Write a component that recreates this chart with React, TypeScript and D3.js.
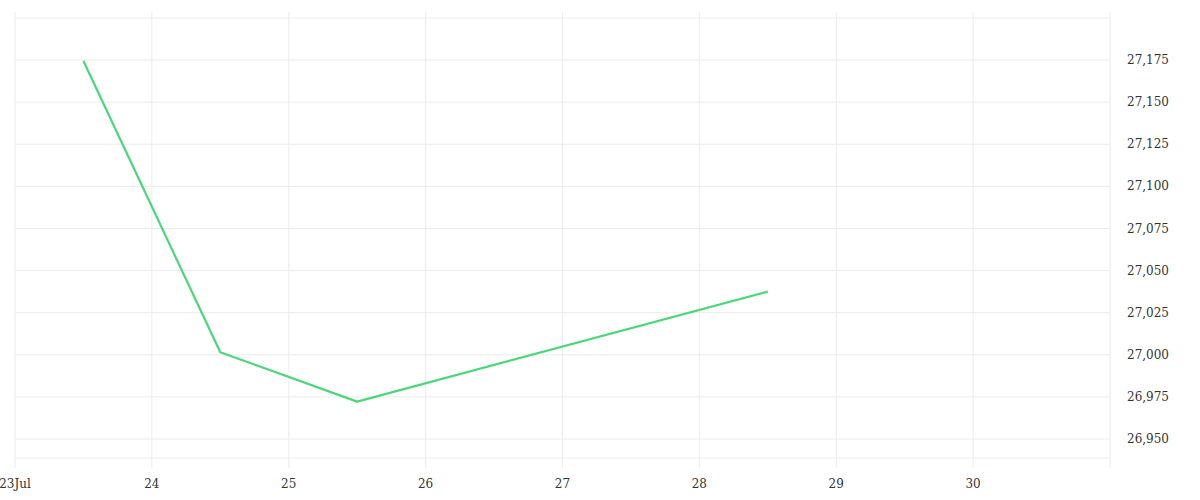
import React from "react";
import * as d3 from "d3";

const dates = ["2023-07-23T12:00:00Z", "2023-07-24T12:00:00Z", "2023-07-25T12:00:00Z", "2023-07-28T12:00:00Z"];
const values = [27174.5, 27001.5, 26972.2, 27037.5];
const xTickDates = ["2023-07-23", "2023-07-24", "2023-07-25", "2023-07-26", "2023-07-27", "2023-07-28", "2023-07-29", "2023-07-30"];
const xTickLabels = ["23Jul", "24", "25", "26", "27", "28", "29", "30"];
const yTicks = [26950, 26975, 27000, 27025, 27050, 27075, 27100, 27125, 27150, 27175];
const yGrid = [26950, 26975, 27000, 27025, 27050, 27075, 27100, 27125, 27150, 27175, 27200];

export default function App() {
  const W = 1200, H = 500;
  const left = 15, right = 1110, top = 12, bottom = 458;
  const x = d3.scaleUtc().domain([new Date("2023-07-23T00:00:00Z"), new Date("2023-07-31T00:00:00Z")]).range([left, right]);
  const y = d3.scaleLinear().domain([26950, 27200]).range([439, 18]);
  const pts = dates.map((d, i) => [x(new Date(d)), y(values[i])] as [number, number]);
  const line = d3.line();
  const font = "DejaVu Serif, serif";
  return (
    <svg width={W} height={H} style={{ position: "absolute", left: 0, top: 0 }}>
      <rect width={W} height={H} fill="#fff" />
      {yGrid.map((v) => (
        <line key={"h" + v} x1={left} x2={right} y1={y(v)} y2={y(v)} stroke="#ececec" strokeWidth={1} />
      ))}
      <line x1={left} x2={right} y1={bottom} y2={bottom} stroke="#ececec" strokeWidth={1} />
      {xTickDates.map((d) => (
        <line key={"v" + d} x1={x(new Date(d + "T00:00:00Z"))} x2={x(new Date(d + "T00:00:00Z"))} y1={top} y2={468} stroke="#ececec" strokeWidth={1} />
      ))}
      <line x1={right} x2={right} y1={top} y2={468} stroke="#ececec" strokeWidth={1} />
      <path d={line(pts) || ""} fill="none" stroke="#4cd67a" strokeWidth={2.2} strokeLinejoin="round" />
      {xTickDates.map((d, i) => (
        <text key={"xl" + d} x={x(new Date(d + "T00:00:00Z"))} y={488} fontSize={12} fontFamily={font} fill="#333" textAnchor="middle">
          {xTickLabels[i]}
        </text>
      ))}
      {yTicks.map((v) => (
        <text key={"yl" + v} x={1127} y={y(v) + 4} fontSize={12} fontFamily={font} fill="#333">
          {d3.format(",")(v)}
        </text>
      ))}
    </svg>
  );
}
